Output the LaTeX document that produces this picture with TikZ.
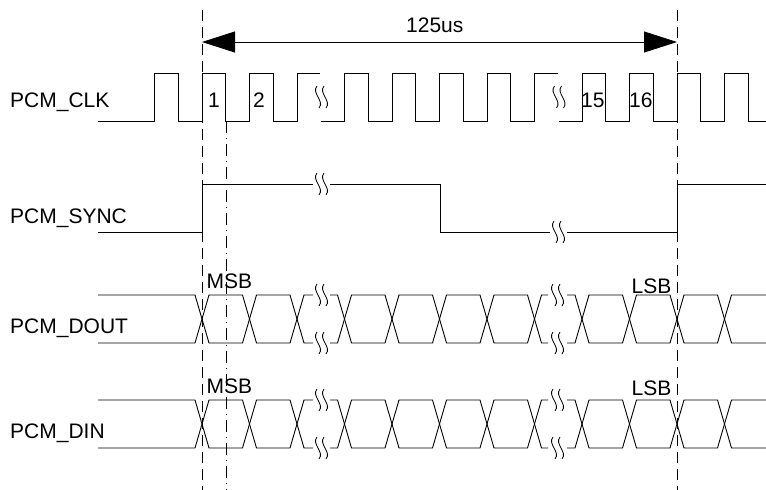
\documentclass[tikz,border=0pt]{standalone}
\usepackage{fontspec}
\setmainfont{Liberation Sans}
\usetikzlibrary{arrows.meta}

\tikzset{
  sig/.style={line width=0.9pt, line join=miter},
  guide/.style={line width=0.8pt, dash pattern=on 11pt off 6pt},
  guidedot/.style={line width=0.8pt, dash pattern=on 12pt off 5pt on 1pt off 5pt},
  lbl/.style={inner sep=0pt, anchor=base west, font=\fontsize{21}{25}\selectfont},
  wavy/.pic={
    \foreach \dx in {-3.5,3.5}
      \draw[line width=0.8pt] (\dx-1,-11) .. controls (\dx-7,-4) and (\dx+7,4) .. (\dx+1,11);
  }
}

% one data row: mid level at 0, high at -24, low at +24
\newcommand{\busrow}{%
  \foreach \a/\b in {202/249.5, 249.5/297, 344.5/392, 392/439.5, 439.5/487, 487/534.5, 582/629.5, 629.5/677, 677/724.5}
    \draw[sig] (\a,0) -- (\a+7,-24) -- (\b-7,-24) -- (\b,0) -- (\b-7,24) -- (\a+7,24) -- cycle;
  \foreach \s/\b in {98/202, 330/344.5, 567/582}
    \draw[sig] (\s,-24) -- (\b-7,-24) -- (\b,0) -- (\b-7,24) -- (\s,24);
  \foreach \a/\e in {297/313, 534.5/548, 724.5/766}
    \draw[sig] (\e,-24) -- (\a+7,-24) -- (\a,0) -- (\a+7,24) -- (\e,24);
  \foreach \x in {321.5, 557.5} {
    \pic at (\x,-24) {wavy};
    \pic at (\x,24) {wavy};
  }
}

\begin{document}
\begin{tikzpicture}[x=1pt, y=-1pt]
  \useasboundingbox (0,0) rectangle (766,490);

  % signal names
  \node[lbl] (clk)  at (10,107) {PCM\_CLK};
  \node[lbl] (sync) at (10,223) {PCM\_SYNC};
  \node[lbl] (dout) at (10,333) {PCM\_DOUT};
  \node[lbl] (din)  at (10,438) {PCM\_DIN};

  % frame markers
  \draw[guide] (202,10) -- (202,490);
  \draw[guide] (677,10) -- (677,490);
  \draw[guidedot] (226,121) -- (226,490);

  % frame length
  \coordinate (frameL) at (202,42);
  \coordinate (frameR) at (677,42);
  \draw[sig, line width=0.8pt, {Triangle[length=33pt,width=21pt]}-{Triangle[length=33pt,width=21pt]}] (frameL) -- (frameR);
  \node[lbl] (period) at (406,32) {125us};

  % PCM_CLK
  \draw[sig] (98,121) foreach \r in {154.5,202,249.5} { -- (\r,121) -- (\r,73) -- (\r+23.75,73) -- (\r+23.75,121) } -- (297,121) -- (297,73) -- (320,73);
  \draw[sig] (321,121) foreach \r in {344.5,392,439.5,487} { -- (\r,121) -- (\r,73) -- (\r+23.75,73) -- (\r+23.75,121) } -- (534.5,121) -- (534.5,73) -- (558,73);
  \draw[sig] (559,121) foreach \r in {582,629.5,677,724.5} { -- (\r,121) -- (\r,73) -- (\r+23.75,73) -- (\r+23.75,121) } -- (766,121);
  \pic at (321.5,97) {wavy};
  \pic at (559,97) {wavy};
  \node[lbl] (bit1)  at (208,107) {1};
  \node[lbl] (bit2)  at (253,107) {2};
  \node[lbl] (bit15) at (581,107) {15};
  \node[lbl] (bit16) at (629,107) {16};

  % PCM_SYNC
  \draw[sig] (98,232) -- (202,232) -- (202,184) -- (313,184);
  \draw[sig] (330,184) -- (440,184) -- (440,232) -- (550,232);
  \draw[sig] (567,232) -- (677,232) -- (677,184) -- (766,184);
  \pic at (321.5,184) {wavy};
  \pic at (558.5,232) {wavy};

  % PCM_DOUT
  \begin{scope}[yshift=-319pt]
    \busrow
  \end{scope}
  \node[lbl] (doutmsb) at (206.5,288) {MSB};
  \node[lbl] (doutlsb) at (631.5,293) {LSB};

  % PCM_DIN
  \begin{scope}[yshift=-424pt]
    \busrow
  \end{scope}
  \node[lbl] (dinmsb) at (206.5,393) {MSB};
  \node[lbl] (dinlsb) at (631.5,395) {LSB};
\end{tikzpicture}
\end{document}
